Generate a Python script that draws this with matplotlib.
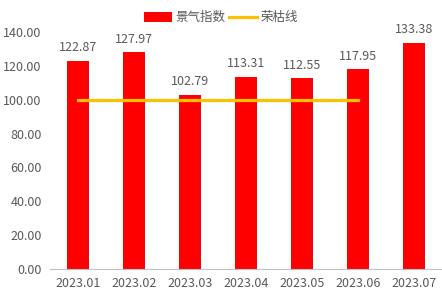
import matplotlib
matplotlib.use("Agg")
import matplotlib.pyplot as plt
import numpy as np

plt.rcParams["font.family"] = ["Noto Sans CJK SC", "DejaVu Sans"]

# ------------------------------------------------------------
# Data
# ------------------------------------------------------------
months = ["2023.01", "2023.02", "2023.03", "2023.04", "2023.05", "2023.06", "2023.07"]
index_values = [122.87, 127.97, 102.79, 113.31, 112.55, 117.95, 133.38]
boom_bust = [100, 100, 100, 100, 100, 100]  # 荣枯线, shown through 2023.06

text_color = "#595959"

fig = plt.figure(figsize=(4.42, 2.99), dpi=100)
ax = fig.add_axes([50 / 442, 1 - 269 / 299, 392 / 442, (269 - 32) / 299])

x = np.arange(len(months))
bars = ax.bar(x, index_values, width=0.4, color="#FF0000", label="景气指数", zorder=2)
line, = ax.plot(np.arange(len(boom_bust)), boom_bust, color="#FFC000", lw=2.3,
                label="荣枯线", zorder=3)

for xi, v in zip(x, index_values):
    ax.text(xi, v + 4, f"{v:.2f}", ha="center", va="bottom",
            fontsize=9, color=text_color)

ax.set_xlim(-0.5, len(months) - 0.5)
ax.set_ylim(0, 140)
ax.set_yticks(np.arange(0, 141, 20))
ax.set_yticklabels([f"{t:.2f}" for t in np.arange(0, 141, 20)])
ax.set_xticks(x)
ax.set_xticklabels(months)
ax.tick_params(axis="both", length=0, labelsize=9, labelcolor=text_color)
ax.tick_params(axis="x", pad=6)
ax.tick_params(axis="y", pad=6)

for s in ["top", "right", "left"]:
    ax.spines[s].set_visible(False)
ax.spines["bottom"].set_color("#BFBFBF")

fig.legend([bars, line], ["景气指数", "荣枯线"], loc="upper center",
           bbox_to_anchor=(0.5, 1.0), ncol=2, frameon=False,
           fontsize=9, labelcolor=text_color, handlelength=2.2, handleheight=0.8,
           columnspacing=0.3, handletextpad=0.3)

plt.savefig("out.png", dpi=100)
